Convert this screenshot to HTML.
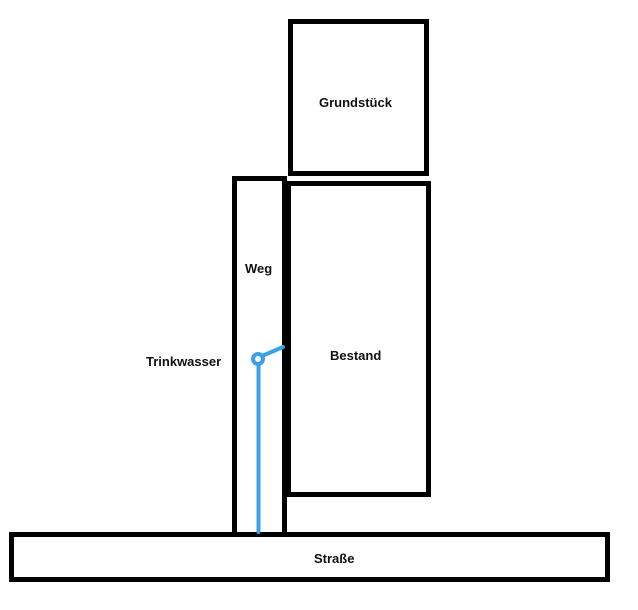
<!DOCTYPE html>
<html><head><style>
html,body{margin:0;padding:0;background:#fff;}
svg{display:block;}
text{font-family:"Liberation Sans",sans-serif;font-weight:bold;font-size:13px;fill:#111;}
</style></head><body>
<svg width="638" height="610" viewBox="0 0 638 610" xmlns="http://www.w3.org/2000/svg">
<g fill="none" stroke="#000" stroke-width="5">
<rect x="290.5" y="21.5" width="136" height="152"/>
<rect x="288.5" y="183.5" width="140" height="311"/>
<rect x="234.5" y="178.5" width="50" height="356"/>
<rect x="11.5" y="534.5" width="596" height="45"/>
</g>
<g stroke="#3aa0e8" stroke-width="4" fill="none" stroke-linecap="round">
<line x1="258.5" y1="365" x2="258.5" y2="532"/>
<line x1="262" y1="356" x2="283" y2="347"/>
<circle cx="258" cy="359" r="5"/>
</g>
<text x="319" y="107">Grundstück</text>
<text x="245" y="273">Weg</text>
<text x="330" y="360">Bestand</text>
<text x="146" y="366">Trinkwasser</text>
<text x="314" y="563">Straße</text>
</svg>
</body></html>
